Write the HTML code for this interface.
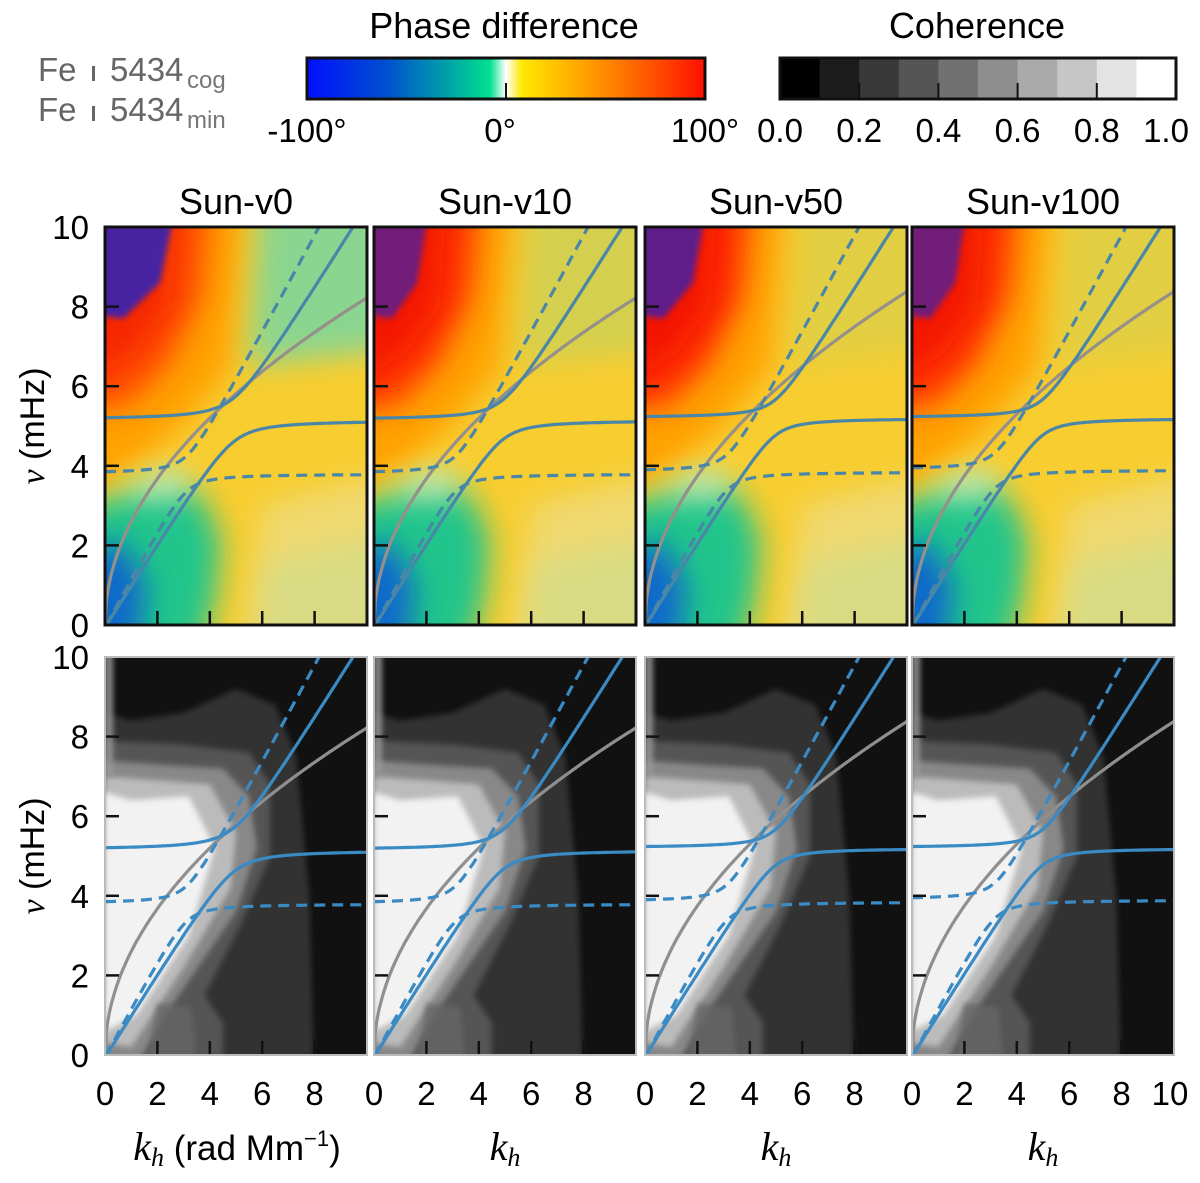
<!DOCTYPE html>
<html><head><meta charset="utf-8"><style>
body{margin:0;background:#fff}
svg text{font-family:"Liberation Sans",sans-serif}
</style></head><body>
<svg id="fig" width="1200" height="1178" viewBox="0 0 1200 1178" xmlns="http://www.w3.org/2000/svg">
<defs>
<linearGradient id="phaseGrad" x1="0" x2="1" y1="0" y2="0">
<stop offset="0" stop-color="#0010ff"/><stop offset="0.2" stop-color="#0050d0"/><stop offset="0.35" stop-color="#00a0a8"/><stop offset="0.46" stop-color="#00e090"/><stop offset="0.5" stop-color="#ffffff"/><stop offset="0.54" stop-color="#ffe800"/><stop offset="0.75" stop-color="#ff8a00"/><stop offset="1" stop-color="#ff1000"/>
</linearGradient>
<filter id="blur" filterUnits="userSpaceOnUse" x="0" y="0" width="1200" height="1178"><feGaussianBlur stdDeviation="14"/></filter>
<filter id="blurS" filterUnits="userSpaceOnUse" x="0" y="0" width="1200" height="1178"><feGaussianBlur stdDeviation="3"/></filter>
</defs>
<g id="root"></g>
</svg>
<script>
// ---- data ----
const panelNames = ["Sun-v0","Sun-v10","Sun-v50","Sun-v100"];
const xTicks = [0,2,4,6,8,10];
const yTicks = [0,2,4,6,8,10];
const phaseTickLabels = ["-100°","0°","100°"];
const cohTickLabels = ["0.0","0.2","0.4","0.6","0.8","1.0"];
const cohSteps = [0,0.1,0.2,0.3,0.4,0.5,0.6,0.7,0.8,0.9];
// gray f-mode-like curve: nu = a*sqrt(k)
const grayCoef = [2.6,2.6,2.65,2.65];
// avoided crossing params per panel: [slope, plateau, coupling]
const solidSlope = [1.05,1.05,1.05,1.05];
const solidPlateau = [5.15,5.15,5.2,5.2];
const solidGap = [0.55,0.5,0.45,0.45];
const dashSlope = [1.22,1.22,1.22,1.22];
const dashPlateau = [3.8,3.8,3.85,3.9];
const dashGap = [0.45,0.45,0.45,0.45];
// heatmap region intensities
const blueAmt = [1.0,0.75,0.85,0.75];
const redAmt = [0.75,0.95,1.0,0.95];
const greenTopAmt = [0.8,0.25,0.15,0.15];

const NS="http://www.w3.org/2000/svg";
const root=document.getElementById('root');
function mk(tag,attrs,parent){const e=document.createElementNS(NS,tag);for(const k in attrs)e.setAttribute(k,attrs[k]);(parent||root).appendChild(e);return e;}
function txt(s,attrs,parent){const e=mk('text',attrs,parent);e.textContent=s;return e;}

const colX=[105,374,645,912], PW=262, rowY=[227,657], PH=398;
function sx(c,k){return colX[c]+k/10*PW;}
function sy(r,v){return rowY[r]+PH-v/10*PH;}
function poly(c,r,pts,fill,filt,op,parent){
  const e=mk('polygon',{points:pts.map(p=>sx(c,p[0])+','+sy(r,p[1])).join(' '),fill:fill,filter:filt?'url(#'+filt+')':'', opacity:op==null?1:op},parent);return e;}

// header texts
let t=txt('Fe',{x:38,y:81,'font-size':33,fill:'#666'});

mk('rect',{x:92,y:66,width:3,height:15,fill:'#666'});
txt('5434',{x:110,y:81,'font-size':33,fill:'#666'});
txt('cog',{x:187,y:88,'font-size':24,fill:'#777','font-family':'Liberation Serif'});
t=txt('Fe',{x:38,y:121,'font-size':33,fill:'#666'});

mk('rect',{x:92,y:106,width:3,height:15,fill:'#666'});
txt('5434',{x:110,y:121,'font-size':33,fill:'#666'});
txt('min',{x:187,y:128,'font-size':24,fill:'#777','font-family':'Liberation Serif'});

t=txt('Phase difference',{x:504,y:38,'font-size':36,'text-anchor':'middle'});

let cb=mk('rect',{x:307,y:58,width:398,height:41,fill:'url(#phaseGrad)',stroke:'#111','stroke-width':3});

mk('line',{x1:506,x2:506,y1:83,y2:99,stroke:'#111','stroke-width':2});
[307,500,705].forEach((x,i)=>{const e=txt(phaseTickLabels[i],{x:x,y:142,'font-size':33,'text-anchor':'middle'});
 });

t=txt('Coherence',{x:977,y:38,'font-size':36,'text-anchor':'middle'});

const cbx=780,cbw=396;
cohSteps.forEach((v,i)=>{const g=Math.round(v/0.9*255);
 const r=mk('rect',{x:cbx+i*cbw/10,y:58,width:cbw/10+0.5,height:41,fill:`rgb(${g},${g},${g})`});
 });
mk('rect',{x:cbx,y:58,width:cbw,height:41,fill:'none',stroke:'#111','stroke-width':3});
cohTickLabels.forEach((s,i)=>{const x=cbx+i*cbw/5;
 if(i>0&&i<5)mk('line',{x1:x,x2:x,y1:83,y2:99,stroke:'#111','stroke-width':2});
 const e=txt(s,{x:Math.min(x,1166),y:142,'font-size':33,'text-anchor':'middle'});
 });

function branches(k,s,p,g){const a=s*k,m=(a+p)/2,d=Math.sqrt(((a-p)/2)**2+g*g);return [m-d,m+d];}
function curvePath(c,r,f){let d='';let started=false;
 for(let i=0;i<=200;i++){const k=i/20;const v=f(k);if(v>10.3||v<-0.2){started=false;continue;}
  d+=(started?'L':'M')+sx(c,k).toFixed(1)+','+sy(r,Math.max(v,0)).toFixed(1);started=true;}
 return d;}

for(let c=0;c<4;c++){
 const tt=txt(panelNames[c],{x:colX[c]+PW/2,y:214,'font-size':36,'text-anchor':'middle'});
 
 for(let r=0;r<2;r++){
  const g=mk('g',{});
  
  
  const cid='clip'+c+r;
  const cp=mk('clipPath',{id:cid},g);mk('rect',{x:colX[c],y:rowY[r],width:PW,height:PH},cp);
  const h=mk('g',{'clip-path':'url(#'+cid+')'},g);
  if(r==0){
   mk('rect',{x:colX[c],y:rowY[r],width:PW,height:PH,fill:'#f7cd30'},h);
   poly(c,r,[[5,-2],[12,-2],[12,4],[6,3]],'#eedc80','blur',0.8,h);
   poly(c,r,[[-2,3],[-2,12],[5.5,12],[4.8,6.5],[3.2,5.2],[1.5,4.2]],'#ffa000','blur',1,h);
   poly(c,r,[[-2,5.4],[-2,12],[4.2,12],[3.7,8.2],[2.4,6.5],[0.8,5.5]],'#ff3000','blur',redAmt[c],h);
   poly(c,r,[[-1,6],[-1,11],[2.8,11],[2.5,8],[1.2,6.8]],'#f01000','blur',redAmt[c]*0.8,h);
   poly(c,r,[[-0.5,7.8],[-0.5,10.5],[2.4*blueAmt[c]+0.3,10.5],[1.8*blueAmt[c]+0.3,8.6],[0.7,7.7]],'#1020d8','blurS',blueAmt[c]*0.75,h);
   poly(c,r,[[-2,-2],[-2,2.6],[0.6,3.3],[2.4,3.7],[3.6,3.3],[4.4,2.2],[4.2,0.6],[3,-2]],'#18c590','blur',0.95,h);
   poly(c,r,[[5.5,-2],[12,-2],[12,2.5],[6,1.5]],'#b8e0a0','blur',0.4,h);
   poly(c,r,[[-1,-1],[-1,1.6],[0.6,2.2],[1.6,1],[1.2,-1]],'#1060d0','blur',0.9,h);
   poly(c,r,[[0.3,3.3],[2.3,4],[3.6,3.6],[2.5,3.1]],'#eaf8d0','blur',0.7,h);
   poly(c,r,[[5.5,6.5],[6,12],[12,12],[12,7]],'#70d8a8','blur',greenTopAmt[c],h);
  } else {
   mk('rect',{x:colX[c],y:rowY[r],width:PW,height:PH,fill:'#111'},h);
   poly(c,r,[[0,-1],[8,-1],[7.8,4],[7.3,7.5],[6.5,8.8],[5,9.2],[3,8.6],[1,8.4],[0,8.6]],'#303030','blurS',1,h);
   poly(c,r,[[0,-1],[4.5,-1],[4.5,0.8],[3.8,1.5],[5.2,3.3],[6.3,5],[6.3,6.8],[5.5,7.6],[3,7.8],[0,7.9]],'#555','blurS',1,h);
   poly(c,r,[[0,0],[1,-0.5],[2.5,1.2],[5,3.6],[5.8,5.2],[5.5,6.5],[4.5,7.2],[2,7.3],[0,7.4]],'#888','blurS',1,h);
   poly(c,r,[[0,0.3],[1,0.2],[3,2.2],[4.8,4.2],[5,5.6],[4,6.8],[2,6.9],[0,7]],'#bbb','blurS',1,h);
   poly(c,r,[[0,0.6],[1.2,1],[3.2,3],[4.2,5.2],[3.2,6.5],[1,6.4],[0,6.6]],'#f2f2f2','blurS',1,h);
   poly(c,r,[[1.4,-1],[3.6,-1],[3.3,1.2],[2,1.3]],'#666','blurS',0.8,h);
   poly(c,r,[[0,7],[0.3,7],[0.3,10.2],[0,10.2]],'#999','blurS',0.9,h);
  }
  // curves
  const gc=mk('path',{d:curvePath(c,r,k=>grayCoef[c]*Math.sqrt(k)),fill:'none',stroke:r==0?'#959089':'#8f8f8f','stroke-width':3.2},h);
  
  const blue=r==0?'#4a86a8':'#3a8ac4';
  for(let b=0;b<2;b++){
   const p=mk('path',{d:curvePath(c,r,k=>branches(k,solidSlope[c],solidPlateau[c],solidGap[c])[b]),fill:'none',stroke:blue,'stroke-width':3.2},h);
   
   const q=mk('path',{d:curvePath(c,r,k=>branches(k,dashSlope[c],dashPlateau[c],dashGap[c])[b]),fill:'none',stroke:blue,'stroke-width':3.2,'stroke-dasharray':'11 7'},h);
   
  }
  // ticks
  xTicks.slice(1,5).forEach(k=>mk('line',{x1:sx(c,k),x2:sx(c,k),y1:rowY[r]+PH,y2:rowY[r]+PH-14,stroke:'#111','stroke-width':2.5},g));
  [2,4,6,8].forEach(v=>mk('line',{x1:colX[c],x2:colX[c]+14,y1:sy(r,v),y2:sy(r,v),stroke:'#111','stroke-width':2.5},g));
  mk('rect',{x:colX[c],y:rowY[r],width:PW,height:PH,fill:'none',stroke:r==0?'#111':'#bbb','stroke-width':r==0?3:2},g);
  if(c==0){
   yTicks.forEach(v=>{const e=txt(String(v),{x:89,y:sy(r,v)+12,'font-size':33,'text-anchor':'end'});
    });
   const yl=mk('text',{transform:`translate(44,${rowY[r]+PH/2}) rotate(-90)`,'font-size':34,'text-anchor':'middle'});
   yl.innerHTML='<tspan font-family="Liberation Serif" font-style="italic">ν</tspan> (mHz)';
   
  }
 }
 // x tick labels
 const labs=c==3?xTicks:xTicks.slice(0,5);
 labs.forEach(k=>{const e=txt(String(k),{x:Math.min(sx(c,k),1170),y:1105,'font-size':33,'text-anchor':'middle'});
  });
 const xl=mk('text',{x:c==0?237:colX[c]+PW/2,y:1160,'font-size':35,'text-anchor':'middle'});
 xl.innerHTML=c==0?'<tspan font-family="Liberation Serif" font-style="italic" font-size="40">k</tspan><tspan font-family="Liberation Serif" font-style="italic" font-size="26" dy="6">h</tspan><tspan dy="-6"> (rad Mm</tspan><tspan font-size="22" dy="-14">−1</tspan><tspan dy="14">)</tspan>'
   :'<tspan font-family="Liberation Serif" font-style="italic" font-size="40">k</tspan><tspan font-family="Liberation Serif" font-style="italic" font-size="26" dy="6">h</tspan>';
 
}
</script>
</body></html>
